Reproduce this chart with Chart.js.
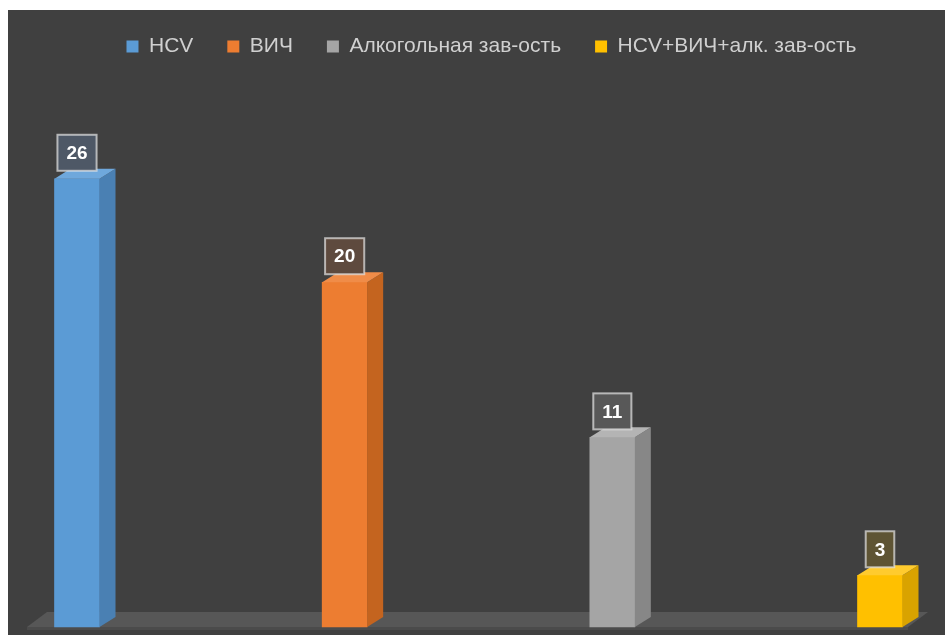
<!DOCTYPE html>
<html>
<head>
<meta charset="utf-8">
<script src="https://cdn.jsdelivr.net/npm/chart.js@4.4.1/dist/chart.umd.min.js"></script>
<style>
  html, body { margin: 0; padding: 0; background: #fff; }
  #wrap { width: 949px; height: 639px; }
</style>
</head>
<body>
<div id="wrap"><canvas id="chart" width="949" height="639"></canvas></div>
<script>
const categories = ["HCV", "ВИЧ", "Алкогольная зав-ость", "HCV+ВИЧ+алк. зав-ость"];
const values = [26, 20, 11, 3];
const frontColors = ["#5b9bd5", "#ed7d31", "#a5a5a5", "#ffc000"];
const sideColors = ["#4a80b3", "#c4641f", "#878787", "#d9a300"];
const topColors = ["#6fa8dc", "#f08c48", "#b4b4b4", "#ffcb2e"];
const boxFills = ["#4e5866", "#5e4a3e", "#585858", "#5e5434"];

const DEPTH_X = 16, DEPTH_Y = 10;

// one dataset per category, each holding a value only in its own slot
const datasets = categories.map((name, i) => ({
  label: name,
  data: categories.map((_, j) => (j === i ? values[i] : null)),
  backgroundColor: frontColors[i],
  borderWidth: 0,
  barThickness: 45,
  clip: false
}));

const background = {
  id: "background",
  beforeDraw(chart) {
    const { ctx } = chart;
    ctx.save();
    ctx.fillStyle = "#ffffff";
    ctx.fillRect(0, 0, chart.width, chart.height);
    ctx.fillStyle = "#404040";
    ctx.fillRect(8, 10, 937, 625);
    ctx.restore();
  }
};

// nudge the legend a little right/down, as in the original
const legendShift = {
  id: "legendShift",
  afterLayout(chart) {
    const lg = chart.legend;
    lg.left += 13; lg.right += 13;
    lg.top += 2; lg.bottom += 2;
  }
};

const floor3d = {
  id: "floor3d",
  beforeDatasetsDraw(chart) {
    const { ctx, scales } = chart;
    const base = scales.y.getPixelForValue(0);
    const x0 = scales.x.getPixelForValue(0) - 50;
    const x1 = scales.x.getPixelForValue(3) + 28;
    ctx.save();
    ctx.fillStyle = "#575757";
    ctx.beginPath();
    ctx.moveTo(x0, base);
    ctx.lineTo(x0 + DEPTH_X + 4, base - DEPTH_Y - 5);
    ctx.lineTo(x1 + DEPTH_X + 4, base - DEPTH_Y - 5);
    ctx.lineTo(x1, base);
    ctx.closePath();
    ctx.fill();
    ctx.fillStyle = "#4b4b4b";
    ctx.fillRect(x0, base, x1 - x0, 3);
    ctx.restore();
  }
};

const bars3d = {
  id: "bars3d",
  afterDatasetsDraw(chart) {
    const { ctx } = chart;
    chart.data.datasets.forEach((ds, i) => {
      const meta = chart.getDatasetMeta(i);
      meta.data.forEach((el, j) => {
        if (ds.data[j] == null) return;
        const { x, y, base, width } = el.getProps(["x", "y", "base", "width"], true);
        const l = x - width / 2, r = x + width / 2;
        ctx.save();
        // side face
        ctx.fillStyle = sideColors[i];
        ctx.beginPath();
        ctx.moveTo(r, y);
        ctx.lineTo(r + DEPTH_X, y - DEPTH_Y);
        ctx.lineTo(r + DEPTH_X, base - DEPTH_Y);
        ctx.lineTo(r, base);
        ctx.closePath();
        ctx.fill();
        // top face
        ctx.fillStyle = topColors[i];
        ctx.beginPath();
        ctx.moveTo(l, y);
        ctx.lineTo(l + DEPTH_X, y - DEPTH_Y);
        ctx.lineTo(r + DEPTH_X, y - DEPTH_Y);
        ctx.lineTo(r, y);
        ctx.closePath();
        ctx.fill();
        // value label box
        ctx.font = "bold 19px 'Liberation Sans', Arial, sans-serif";
        const text = String(ds.data[j]);
        const tw = ctx.measureText(text).width;
        const bw = tw + 18, bh = 36;
        const bx = x - bw / 2, by = y - 8 - bh;
        ctx.fillStyle = boxFills[i];
        ctx.fillRect(bx, by, bw, bh);
        ctx.strokeStyle = "rgba(230,230,230,0.7)";
        ctx.lineWidth = 2;
        ctx.strokeRect(bx, by, bw, bh);
        ctx.fillStyle = "#ffffff";
        ctx.textAlign = "center";
        ctx.textBaseline = "middle";
        ctx.fillText(text, x, by + bh / 2 + 1);
        ctx.restore();
      });
    });
  }
};

new Chart(document.getElementById("chart"), {
  type: "bar",
  data: { labels: categories, datasets },
  options: {
    responsive: false,
    animation: false,
    layout: { padding: { left: 77, right: 69, top: 0, bottom: 12 } },
    datasets: { bar: { grouped: false } },
    plugins: {
      legend: {
        position: "top",
        labels: {
          color: "#d0d0d0",
          font: { family: "'Liberation Sans', Arial, sans-serif", size: 21 },
          boxWidth: 12,
          boxHeight: 12,
          padding: 34
        }
      },
      tooltip: { enabled: false }
    },
    scales: {
      x: { display: false, offset: false, grid: { display: false } },
      y: { display: false, min: 0, max: 32.6 }
    }
  },
  plugins: [background, legendShift, floor3d, bars3d]
});
</script>
</body>
</html>
